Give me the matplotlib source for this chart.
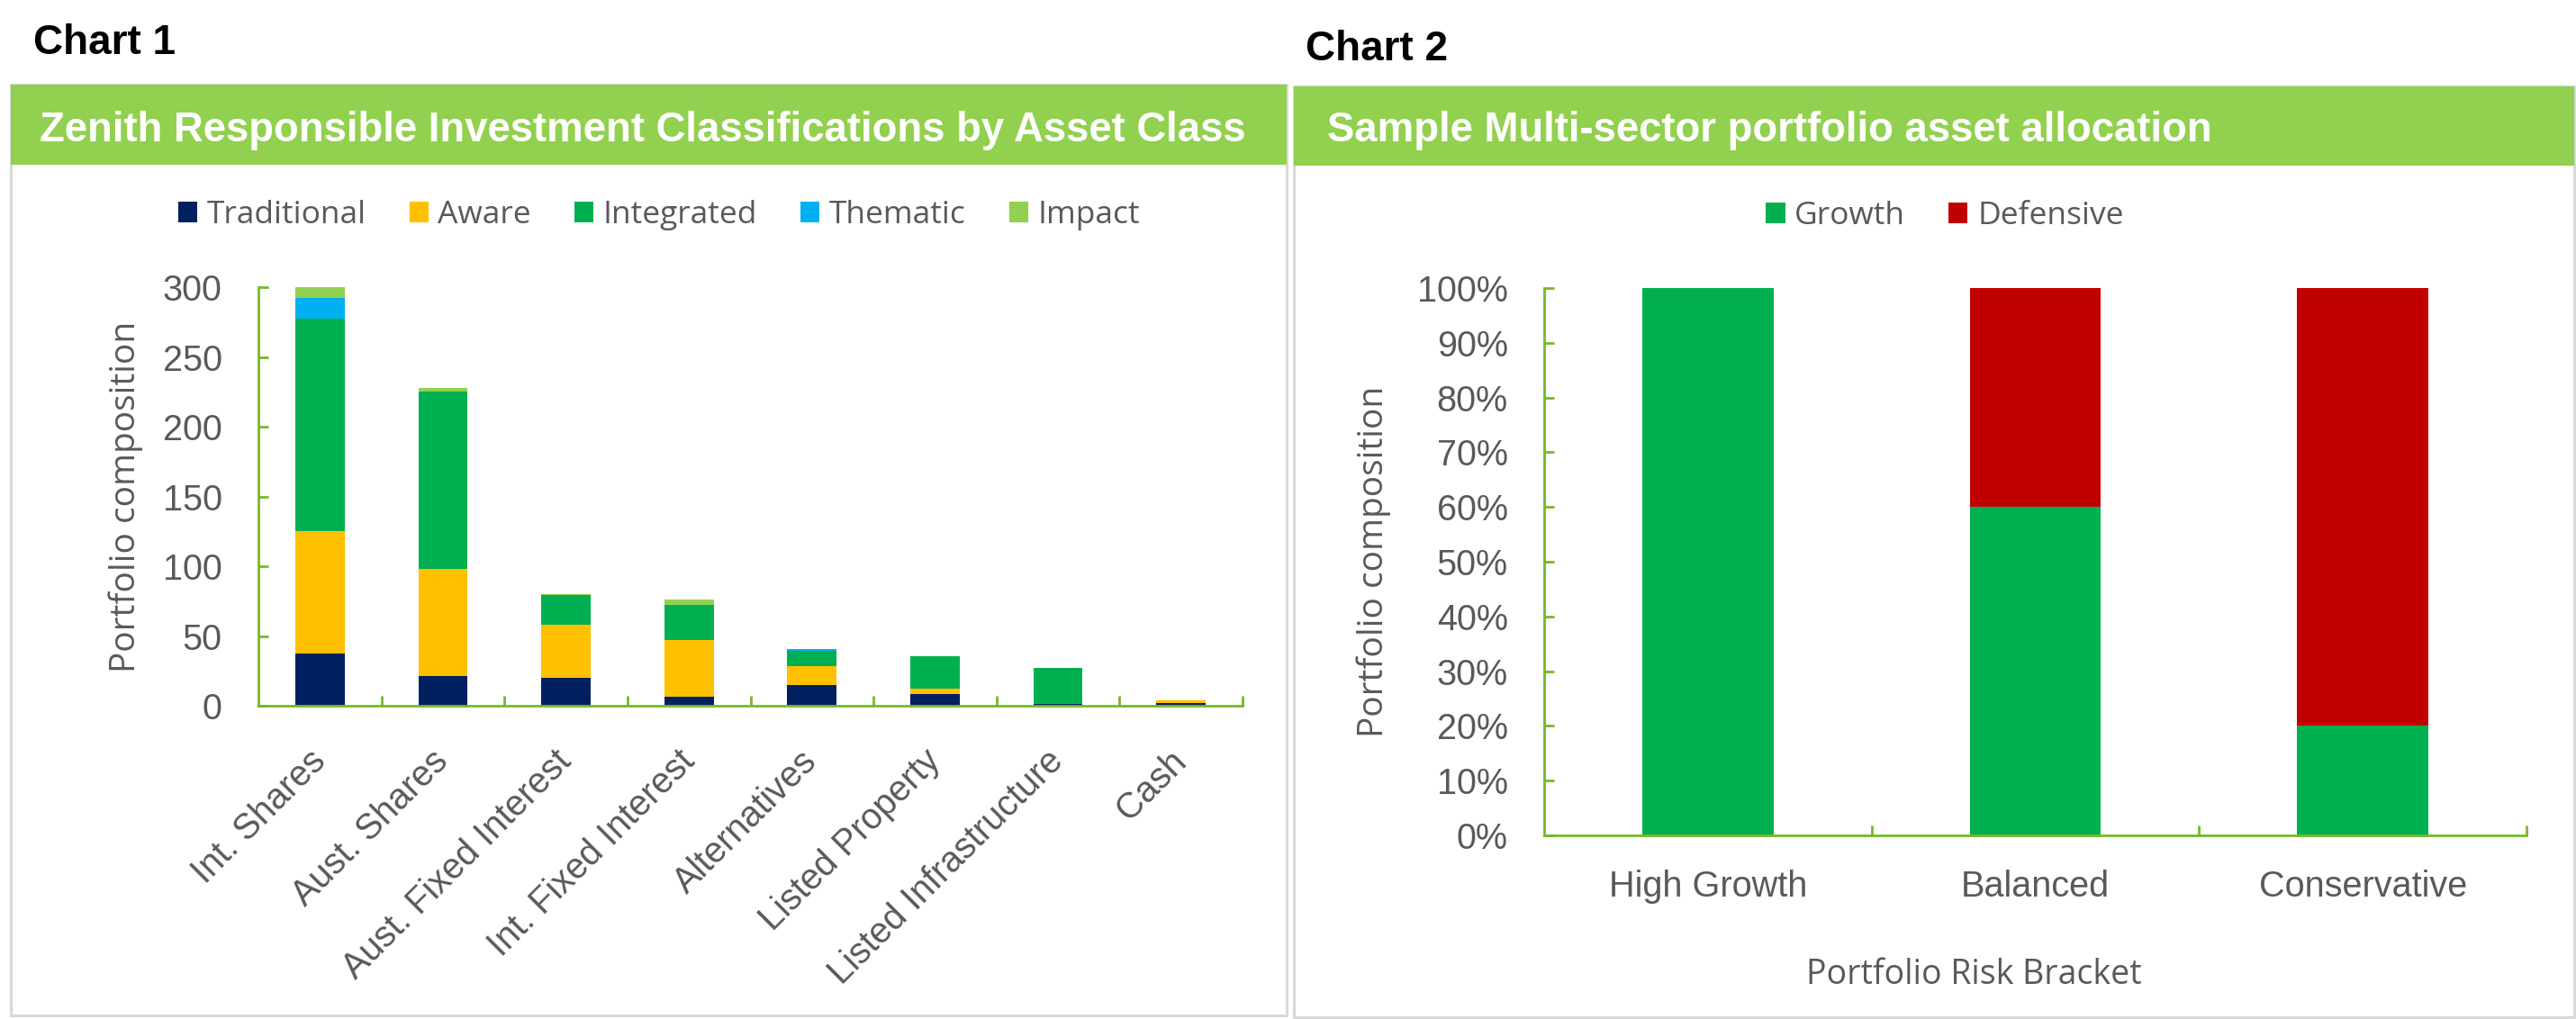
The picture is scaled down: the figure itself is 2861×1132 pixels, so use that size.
import numpy as np
import matplotlib
matplotlib.use("Agg")
import matplotlib.pyplot as plt
from matplotlib.patches import Rectangle
from matplotlib.ticker import PercentFormatter

# chart 1 data
categories = ["Int. Shares", "Aust. Shares", "Aust. Fixed Interest", "Int. Fixed Interest",
              "Alternatives", "Listed Property", "Listed Infrastructure", "Cash"]
traditional = [37.5, 21, 20, 6.5, 15, 8.5, 1.3, 2]
aware = [88, 77, 38, 40.5, 13.5, 4, 0, 2]
integrated = [152, 127, 21.5, 25, 11, 23, 26, 0]
thematic = [15, 0, 0, 0, 1, 0, 0, 0]
impact = [8, 3, 0.6, 4, 0, 0, 0, 0]
series_names = ["Traditional", "Aware", "Integrated", "Thematic", "Impact"]
series_colors = ["#002060", "#FFC000", "#00B050", "#00B0F0", "#92D050"]

# chart 2 data
brackets = ["High Growth", "Balanced", "Conservative"]
growth = [100, 60, 20]
defensive = [0, 40, 80]

W, H = 2861, 1132
GREEN_AX = "#77B82A"
HEADER = "#92D050"
GREY_TXT = "#595959"
TITLE_FONT = "Liberation Sans"
BODY_FONT = "Open Sans"


def fx(px):
    return px / W


def fy(py):
    return 1 - py / H


def add_axes(left, top, right, bottom):
    ax = fig.add_axes([fx(left), fy(bottom), fx(right) - fx(left), (bottom - top) / H])
    ax.set_zorder(5)
    ax.patch.set_alpha(0)
    return ax


def style_axes(ax, n):
    for s in ["top", "right"]:
        ax.spines[s].set_visible(False)
    for s in ["left", "bottom"]:
        ax.spines[s].set_color(GREEN_AX)
        ax.spines[s].set_linewidth(2)
    ax.set_xlim(-0.5, n - 0.5)
    ax.set_xticks(range(n))
    ax.set_xticks(np.arange(0.5, n, 1.0), minor=True)
    ax.tick_params(axis="x", which="major", length=0, pad=27, labelsize=28.5,
                   labelcolor=GREY_TXT)
    ax.tick_params(axis="x", which="minor", direction="in", length=8, width=2, color=GREEN_AX)
    ax.tick_params(axis="y", direction="in", length=8, width=2, color=GREEN_AX,
                   pad=29, labelsize=28.5, labelcolor=GREY_TXT)
    for lab in ax.get_xticklabels() + ax.get_yticklabels():
        lab.set_fontfamily(TITLE_FONT)


fig = plt.figure(figsize=(W / 100, H / 100), dpi=100)

# panel frames and headers
for x0, x1, y0, y1, hb in [(12, 1429, 94, 1128, 183), (1437, 2859, 96, 1130, 184)]:
    fig.patches.append(Rectangle((fx(x0), fy(y1)), fx(x1) - fx(x0), (y1 - y0) / H,
                                 transform=fig.transFigure, facecolor="white",
                                 edgecolor="#D9D9D9", linewidth=2.2, zorder=-2))
    fig.patches.append(Rectangle((fx(x0), fy(hb)), fx(x1) - fx(x0), (hb - y0) / H,
                                 transform=fig.transFigure, facecolor=HEADER,
                                 edgecolor="none", zorder=-1))

fig.text(fx(37), fy(60), "Chart 1", fontsize=33, fontweight="bold", family=TITLE_FONT,
         color="black", va="baseline")
fig.text(fx(1450), fy(67), "Chart 2", fontsize=33, fontweight="bold", family=TITLE_FONT,
         color="black", va="baseline")
fig.text(fx(44), fy(157), "Zenith Responsible Investment Classifications by Asset Class",
         fontsize=32.8, fontweight="bold", family=TITLE_FONT, color="white", va="baseline")
fig.text(fx(1474), fy(157), "Sample Multi-sector portfolio asset allocation",
         fontsize=32.8, fontweight="bold", family=TITLE_FONT, color="white", va="baseline")

# chart 1
ax1 = add_axes(287, 319.3, 1380, 784)
x = np.arange(len(categories))
bottom = np.zeros(len(categories))
for name, vals, col in zip(series_names, [traditional, aware, integrated, thematic, impact],
                           series_colors):
    ax1.bar(x, vals, 0.4, bottom=bottom, color=col, label=name, zorder=2)
    bottom += np.array(vals)
ax1.set_ylim(0, 300)
ax1.set_yticks(range(0, 301, 50))
ax1.set_xticks(x)
ax1.set_xticklabels(categories, rotation=45, ha="right", va="center", rotation_mode="anchor")
style_axes(ax1, len(categories))
ax1.tick_params(axis="x", which="major", pad=40)
fig.text(fx(140), fy(552), "Portfolio composition", rotation=90, ha="center", va="center",
         fontsize=28, family=BODY_FONT, color=GREY_TXT)
h1, l1 = ax1.get_legend_handles_labels()
fig.legend(h1, l1, loc="center", bbox_to_anchor=(fx(732), fy(239)), ncol=5, frameon=False,
           prop={"family": BODY_FONT, "size": 25.5}, labelcolor=GREY_TXT,
           handlelength=0.6, handleheight=0.62, handletextpad=0.3, columnspacing=1.35,
           borderpad=0)

# chart 2
ax2 = add_axes(1715, 320, 2806, 928)
x2 = np.arange(len(brackets))
ax2.bar(x2, growth, 0.4, color="#00B050", label="Growth", zorder=2)
ax2.bar(x2, defensive, 0.4, bottom=growth, color="#C00000", label="Defensive", zorder=2)
ax2.set_ylim(0, 100)
ax2.set_yticks(range(0, 101, 10))
ax2.yaxis.set_major_formatter(PercentFormatter(100, decimals=0))
ax2.set_xticks(x2)
ax2.set_xticklabels(brackets)
style_axes(ax2, len(brackets))
fig.text(fx(1526), fy(624), "Portfolio composition", rotation=90, ha="center", va="center",
         fontsize=28, family=BODY_FONT, color=GREY_TXT)
fig.text(fx(2192), fy(1083), "Portfolio Risk Bracket", ha="center", va="center",
         fontsize=27, family=BODY_FONT, color=GREY_TXT)
h2, l2 = ax2.get_legend_handles_labels()
fig.legend(h2, l2, loc="center", bbox_to_anchor=(fx(2160), fy(240)), ncol=2, frameon=False,
           prop={"family": BODY_FONT, "size": 25.5}, labelcolor=GREY_TXT,
           handlelength=0.6, handleheight=0.62, handletextpad=0.3, columnspacing=1.35,
           borderpad=0)

fig.savefig("out.png", dpi=100)
